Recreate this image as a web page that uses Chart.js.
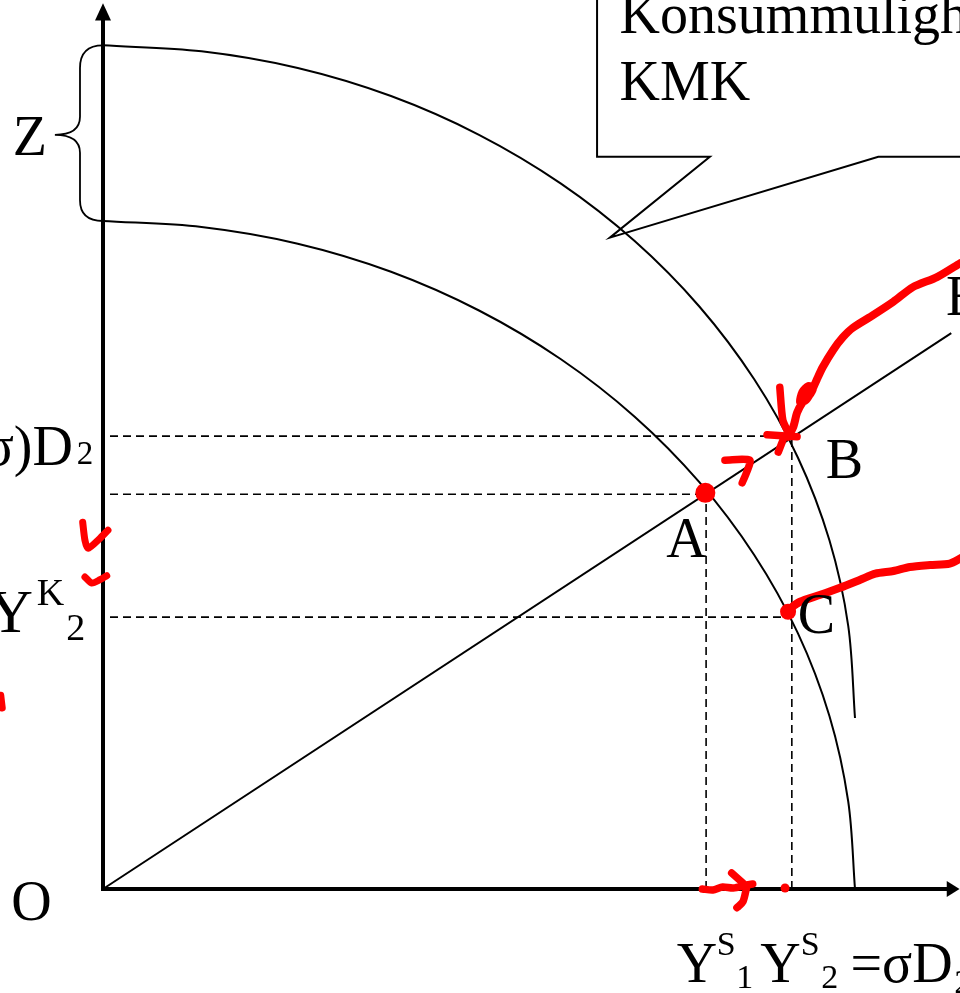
<!DOCTYPE html>
<html><head><meta charset="utf-8">
<script src="https://cdn.jsdelivr.net/npm/chart.js@4"></script>
<style>html,body{margin:0;padding:0;background:#fff;overflow:hidden}canvas{display:block}</style>
</head><body>
<canvas id="c" width="960" height="993" style="width:960px;height:993px"></canvas>
<script>
// ---- curve data (units: inner curve intercepts = 100) ----
const curveX  = [0, 13.1, 25.9, 38.3, 50, 60.9, 70.7, 79.3, 86.6, 92.4, 96.6, 99.1, 100];
const innerY  = [100, 99.1, 96.6, 92.4, 86.6, 79.3, 70.7, 60.9, 50, 38.3, 25.9, 13.1, 0];
const outerY  = [126.3, 125.4, 122.9, 118.7, 112.9, 105.6, 97.0, 87.2, 76.3, 64.6, 52.2, 39.4, 25.6];
const rayX = [0, 112.8];
const rayY = [0, 83.2];
const pointA = [80.2, 59.1];
const pointB = [91.6, 67.8];
const pointC = [91.1, 40.7];
const guideStart = 0.93;
const Zvalue = 26.3;
const axisXEnd = 112.5, axisYEnd = 130.5;
const calloutX = [65.7, 65.7, 80.7, 67.4, 103.1, 116];
const calloutY = [136, 109.6, 109.6, 97.5, 109.6, 109.6];

// ---- handwritten red marks ----
const redMainX = [91.1, 91.8, 92.3, 93.0, 93.8, 94.4, 93.8, 93.0, 92.7, 93.5, 94.3, 94.9, 95.7, 97.1, 98.4, 99.7, 102.4, 105.1, 107.7, 110.9, 114.0];
const redMainY = [67.7, 69.2, 71.3, 72.8, 73.7, 74.9, 75.3, 74.4, 72.9, 73.2, 74.7, 76.2, 78.1, 80.7, 82.6, 84.0, 85.9, 87.9, 90.1, 91.6, 93.7];
const redVertX = [90.0, 90.4, 91.1];
const redVertY = [75.1, 70.2, 68.4];
const redBarX = [88.3, 92.3];
const redBarY = [68.0, 67.7];
const redDownX = [90.6, 89.8];
const redDownY = [67.7, 65.4];
const redSevenX = [82.7, 86.0, 85.6, 85.0];
const redSevenY = [64.2, 64.2, 62.4, 60.8];
const redLowX = [91.1, 92.7, 95.3, 98.0, 100.7, 102.7, 105.1, 107.3, 110.0, 112.6, 114.2];
const redLowY = [41.8, 43.0, 44.0, 45.1, 46.3, 47.2, 47.6, 48.2, 48.5, 48.7, 49.6];
const redArrowX = [79.7, 81.1, 82.4, 83.8, 85.6, 86.4];
const redArrowY = [0, -0.15, 0.3, 0.15, 0.6, 0.75];
const redArrowUpX = [83.6, 85.1];
const redArrowUpY = [2.4, 0.9];
const redArrowDownX = [85.6, 85.1, 84.3];
const redArrowDownY = [0.3, -1.9, -2.8];
const redCheck1X = [-2.7, -2.4, -2.0, -0.4, 0.66];
const redCheck1Y = [54.9, 52.2, 51.0, 52.5, 53.7];
const redCheck2X = [-2.4, -1.5, -0.4, 0.5];
const redCheck2Y = [46.7, 45.8, 46.3, 46.9];
const redEdgeX = [-13.6, -13.4];
const redEdgeY = [29.0, 27.1];
const redDotX = [80.1, 91.1, 90.7];
const redDotY = [59.3, 41.5, 0.15];

// ---- text labels ----
const SERIF = '"Liberation Serif","Times New Roman",serif';
const labels = [
  {t:'Konsummulighedskurve', x:68.7, y:128.1, s:56},
  {t:'KMK', x:68.7, y:118.1, s:56},
  {t:'Z', x:-12.0, y:109.9, s:56},
  {t:'O', x:-12.2, y:-4.6, s:56},
  {t:'A', x:74.9, y:49.7, s:56},
  {t:'B', x:96.1, y:61.5, s:56},
  {t:'C', x:92.4, y:38.3, s:56},
  {t:'E', x:112.1, y:85.9, s:56},
  {t:'(1\u2212\u03C3)D', x:-4.0, y:63.5, s:56, a:'right'},
  {t:'2', x:-3.5, y:63.6, s:33},
  {t:'Y', x:-9.3, y:38.5, s:62, a:'right'},
  {t:'K', x:-8.8, y:42.5, s:38},
  {t:'2', x:-4.9, y:37.3, s:38},
  {t:'Y', x:76.3, y:-13.9, s:56},
  {t:'S', x:81.6, y:-9.9, s:34},
  {t:'1', x:84.2, y:-14.8, s:34},
  {t:'Y', x:87.4, y:-13.9, s:56},
  {t:'S', x:92.8, y:-9.9, s:34},
  {t:'2', x:95.5, y:-14.8, s:34},
  {t:'=\u03C3D\u2082', x:99.4, y:-13.9, s:56}
];

function pts(xs, ys){ return xs.map((x,i)=>({x:x, y:ys[i]})); }
function line(xs, ys, o){
  return Object.assign({data:pts(xs,ys), showLine:true, pointRadius:0, borderColor:'#000',
    borderWidth:2, fill:false, tension:0, clip:false}, o||{});
}
const RED = '#ff0000';
function red(xs, ys, w){
  return line(xs, ys, {borderColor:RED, borderWidth:w||7.5, borderCapStyle:'round', borderJoinStyle:'round', tension:0.25});
}
const dashOpt = {borderWidth:1.6, borderDash:[8,5]};

const datasets = [
  red(redMainX, redMainY, 8),
  red(redVertX, redVertY),
  red(redBarX, redBarY),
  red(redDownX, redDownY),
  red(redSevenX, redSevenY),
  red(redLowX, redLowY, 8),
  red(redArrowX, redArrowY),
  red(redArrowUpX, redArrowUpY),
  red(redArrowDownX, redArrowDownY),
  red(redCheck1X, redCheck1Y, 7),
  red(redCheck2X, redCheck2Y, 7),
  red(redEdgeX, redEdgeY, 7),
  {data:pts(redDotX, redDotY), showLine:false, pointRadius:[10,8,4.5], pointBackgroundColor:RED,
   pointBorderWidth:0, pointBorderColor:RED, clip:false},
  line([0, 0], [0, axisYEnd], {borderWidth:4, borderCapStyle:'square'}),
  line([0, axisXEnd], [0, 0], {borderWidth:4, borderCapStyle:'square'}),
  line(curveX, innerY, {tension:0.33}),
  line(curveX, outerY, {tension:0.33}),
  line(rayX, rayY),
  line([guideStart, pointB[0]], [pointB[1], pointB[1]], dashOpt),
  line([guideStart, pointA[0]], [pointA[1], pointA[1]], dashOpt),
  line([guideStart, pointC[0]], [pointC[1], pointC[1]], dashOpt),
  line([pointA[0], pointA[0]], [0, pointA[1]], dashOpt),
  line([pointB[0], pointB[0]], [0, pointB[1]], dashOpt),
  line(calloutX, calloutY, {borderWidth:2, borderJoinStyle:'miter'})
];

const annot = {
  id:'annot',
  afterDatasetsDraw(chart){
    const ctx = chart.ctx, sx = chart.scales.x, sy = chart.scales.y;
    const X = v => sx.getPixelForValue(v), Y = v => sy.getPixelForValue(v);
    ctx.save();
    ctx.fillStyle = '#000';
    const tx = X(0), tY = Y(132.6), bY = Y(axisYEnd - 0.5);
    ctx.beginPath(); ctx.moveTo(tx, tY); ctx.lineTo(tx-8, bY); ctx.lineTo(tx+8, bY); ctx.closePath(); ctx.fill();
    const ax = X(113.9), bx = X(axisXEnd - 0.3), ay = Y(0);
    ctx.beginPath(); ctx.moveTo(ax, ay); ctx.lineTo(bx, ay-8); ctx.lineTo(bx, ay+8); ctx.closePath(); ctx.fill();
    const top = 100 + Zvalue, bot = 100, mid = 112.9;
    const bxv = X(-3.06), tip = X(-6.4), x0 = X(0);
    ctx.strokeStyle = '#000'; ctx.lineWidth = 1.8;
    ctx.beginPath();
    ctx.moveTo(x0, Y(top));
    ctx.quadraticCurveTo(bxv, Y(top), bxv, Y(122.9));
    ctx.lineTo(bxv, Y(115.6));
    ctx.quadraticCurveTo(bxv, Y(mid), tip, Y(mid));
    ctx.quadraticCurveTo(bxv, Y(mid), bxv, Y(110.2));
    ctx.lineTo(bxv, Y(103.1));
    ctx.quadraticCurveTo(bxv, Y(bot), x0, Y(bot));
    ctx.stroke();
    ctx.fillStyle = '#000';
    ctx.textBaseline = 'alphabetic';
    labels.forEach(l => {
      ctx.font = l.s + 'px ' + SERIF;
      ctx.textAlign = l.a || 'left';
      ctx.fillText(l.t, X(l.x), Y(l.y));
    });
    ctx.restore();
  }
};

new Chart(document.getElementById('c'), {
  type:'scatter',
  data:{datasets:datasets},
  options:{
    responsive:false, animation:false, devicePixelRatio:1, events:[],
    layout:{padding:0, autoPadding:false},
    plugins:{legend:{display:false}, tooltip:{enabled:false}},
    scales:{
      x:{type:'linear', display:false, min:-13.697, max:113.963},
      y:{type:'linear', display:false, min:-15.569, max:133.08}
    }
  },
  plugins:[annot]
});
</script>
</body></html>
